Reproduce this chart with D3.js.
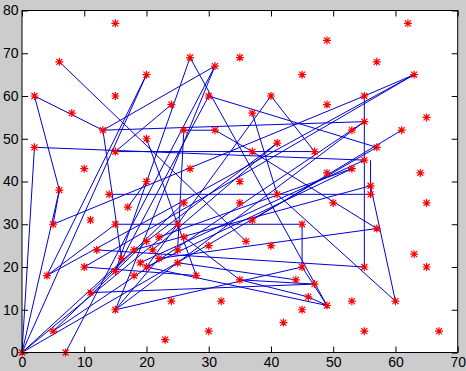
<!DOCTYPE html>
<html>
<head>
<meta charset="utf-8">
<script src="https://cdn.jsdelivr.net/npm/d3@7"></script>
<style>
  html, body { margin: 0; padding: 0; background: #cccccc; }
  svg { display: block; }
</style>
</head>
<body>
<script>
// scattered points (red stars)
const pointX = [15,62,6,27,31,35,49,57,20,45,63,2,15,30,40,49,55,8,37,24,65,13,26,31,20,2,15,37,27,10,41,53,55,61,57,47,55,49,53,64,56,56,50,65,57,45,35,41,26,35,37,25,22,26,36,30,40,6,20,14,17,5,11,15,20,12,18,4,10,16,15,18,19,20,21,22,11,15,5,0,7,25,25,28,35,44,45,46,45,24,32,42,30,23,47,49,55,53,60,55,63,65,67];
const pointY = [77,77,68,69,67,69,73,68,65,65,65,60,60,60,60,58,60,56,56,58,55,52,52,52,50,48,47,47,43,43,49,52,54,52,48,47,45,42,43,42,39,37,35,35,29,30,40,37,35,35,31,30,27,27,26,25,25,38,40,37,34,30,31,30,26,24,24,18,20,22,19,18,21,20,24,22,14,10,5,0,0,24,21,18,17,17,20,13,10,12,12,7,5,3,16,11,20,12,12,5,23,20,5];

// blue connections: [fromX, fromY, toX, toY]
const links = [
  [2,60,6,38],[6,38,0,0],[0,0,2,48],[2,48,55,45],[2,60,13,52],[13,52,31,67],
  [31,67,7,0],[31,67,15,10],[27,69,49,11],[27,69,15,19],[30,60,57,48],[30,60,15,19],
  [40,60,47,47],[40,60,20,20],[6,68,36,26],[20,65,4,18],[20,65,0,0],[63,65,4,18],
  [63,65,10,20],[63,65,55,60],[55,60,55,20],[15,47,47,47],[14,37,56,37],[15,30,45,30],
  [11,14,47,16],[15,10,55,54],[15,10,45,20],[5,5,55,54],[55,20,12,24],[41,37,60,12],
  [56,39,60,12],[61,52,37,31],[45,30,45,20],[45,20,49,11],[46,13,49,11],[35,17,46,13],
  [35,17,47,16],[20,20,49,11],[57,29,22,22],[57,29,37,47],[37,47,31,52],[31,52,26,52],
  [26,52,25,24],[24,58,15,47],[20,50,28,18],[5,30,6,38],[4,18,15,30],[13,52,16,22],
  [10,20,28,18],[17,34,20,40],[21,24,41,49],[41,49,20,26],[22,27,53,43],[0,0,25,30],
  [0,0,18,24],[5,5,20,26],[15,10,22,22],[11,14,26,35],[18,24,56,39],[19,21,55,45],
  [56,45,56,37],[20,20,53,43],[37,56,41,37],[26,27,35,17],[25,21,44,17],
  [13,52,55,54],[55,60,5,30],[57,48,0,0]
];

const xTicks = [0,10,20,30,40,50,60,70];
const yTicks = [0,10,20,30,40,50,60,70,80];

const W = 466, H = 371;
const m = {left: 22, right: 8.3, top: 10.5, bottom: 18.5};

const svg = d3.select("body").append("svg").attr("width", W).attr("height", H);

const x = d3.scaleLinear().domain([0,70]).range([m.left, W - m.right]);
const y = d3.scaleLinear().domain([0,80]).range([H - m.bottom, m.top]);

svg.append("rect")
  .attr("x", x(0)).attr("y", y(80))
  .attr("width", x(70) - x(0)).attr("height", y(0) - y(80))
  .attr("fill", "#fff");

const plot = svg.append("g");

plot.selectAll("line.link").data(links).enter()
  .append("line").attr("class","link")
  .attr("x1", d => x(d[0])).attr("y1", d => y(d[1]))
  .attr("x2", d => x(d[2])).attr("y2", d => y(d[3]))
  .attr("stroke", "#0000d8").attr("stroke-width", 1);

const pts = pointX.map((v,i) => [v, pointY[i]]);
const star = plot.selectAll("g.star").data(pts).enter()
  .append("g").attr("class","star")
  .attr("transform", d => `translate(${x(d[0])},${y(d[1])})`);
const r = 4, rd = 3;
star.append("path")
  .attr("d", `M${-r},0H${r}M0,${-r}V${r}M${-rd},${-rd}L${rd},${rd}M${-rd},${rd}L${rd},${-rd}`)
  .attr("stroke", "#ff0000").attr("stroke-width", 1.2).attr("fill","none");

// axes, ticks inward on all sides
const tl = 6;
const axisFont = "Liberation Sans, Arial, sans-serif";
const axBottom = d3.axisBottom(x).tickValues(xTicks).tickSizeInner(-tl).tickSizeOuter(0).tickPadding(4.5);
const axLeft = d3.axisLeft(y).tickValues(yTicks).tickSizeInner(-tl).tickSizeOuter(0).tickPadding(3.5);
const axTop = d3.axisTop(x).tickValues(xTicks).tickSizeInner(-tl).tickSizeOuter(0).tickFormat("");
const axRight = d3.axisRight(y).tickValues(yTicks).tickSizeInner(-tl).tickSizeOuter(0).tickFormat("");

[
  [axBottom, `translate(0,${y(0)})`],
  [axLeft, `translate(${x(0)},0)`],
  [axTop, `translate(0,${y(80)})`],
  [axRight, `translate(${x(70)},0)`]
].forEach(([ax, t]) => {
  const g = svg.append("g").attr("transform", t).call(ax);
  g.select(".domain").remove();
  g.selectAll("line").attr("stroke", "#000");
  g.selectAll("text").attr("fill", "#000").style("font-family", axisFont).style("font-size", "14px");
});

svg.append("rect")
  .attr("x", x(0)).attr("y", y(80))
  .attr("width", x(70) - x(0)).attr("height", y(0) - y(80))
  .attr("fill", "none").attr("stroke", "#000").attr("stroke-width", 1);
</script>
</body>
</html>
